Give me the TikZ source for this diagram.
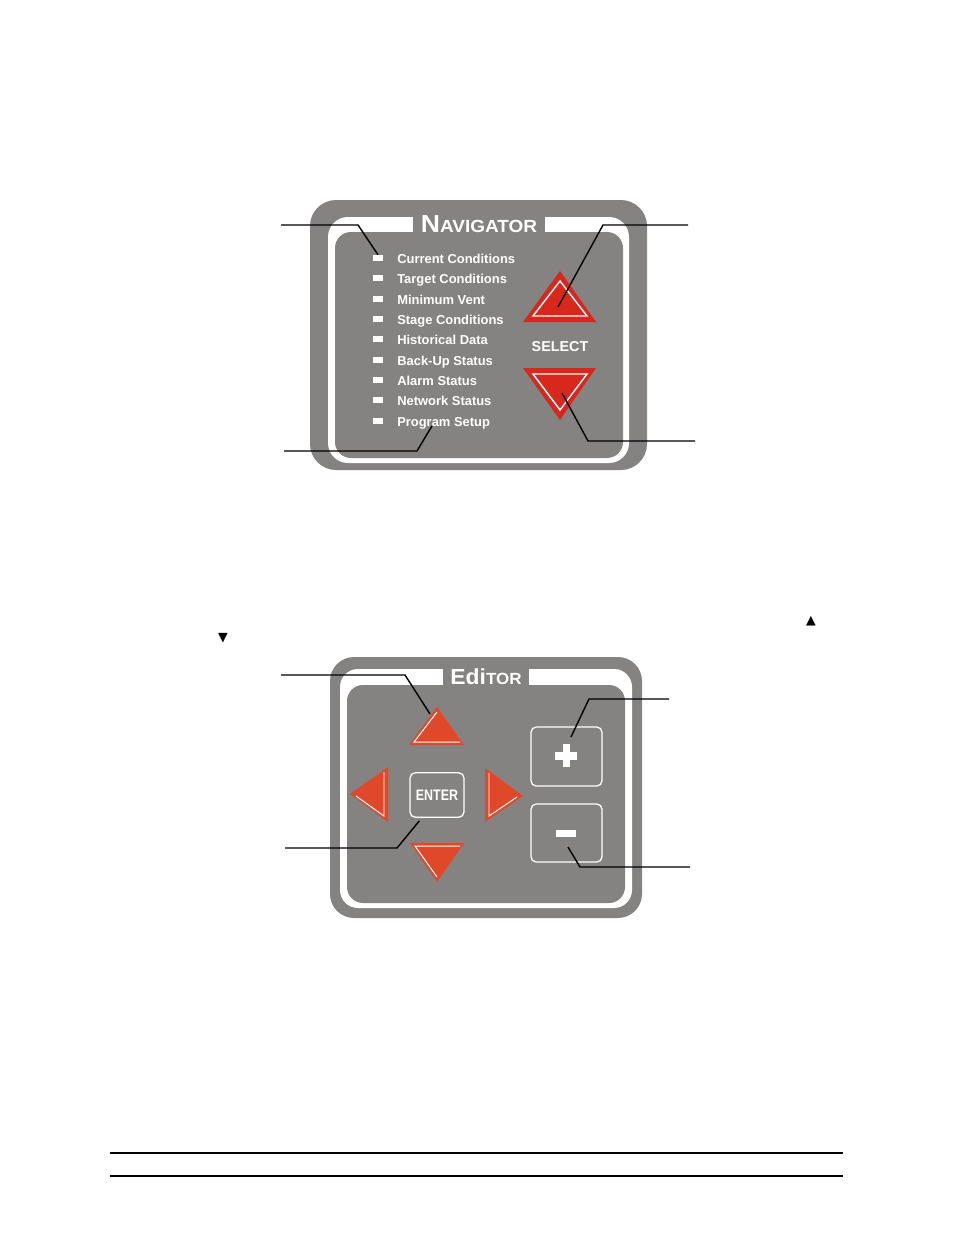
\documentclass[tikz,border=0pt]{standalone}
\usepackage{fontspec}
\setmainfont{Liberation Sans}
\newfontfamily\symfont{DejaVu Sans}
\definecolor{panelgray}{HTML}{858381}
\definecolor{navred}{HTML}{D8281E}
\definecolor{edred}{HTML}{E0482A}
\tikzset{
  leader/.style={draw=black, line width=1pt},
  led/.style={fill=white, inner sep=0pt, minimum width=2.6mm, minimum height=1.5mm},
  menutext/.style={anchor=base west, inner sep=0pt, text=white, font=\bfseries\fontsize{9.2}{10}\selectfont},
  keybox/.style={draw=white, line width=0.9pt, rounded corners=1.3mm},
}
\begin{document}
\begin{tikzpicture}[x=0.25mm, y=-0.25mm]
	\useasboundingbox (0,0) rectangle (954,1235);
	% navigator panel
	\fill[panelgray, rounded corners=6.5mm] (310,200) rectangle (647,470);
	\fill[white, rounded corners=5mm] (328,217) rectangle (629,463);
	\fill[panelgray, rounded corners=4mm] (335,232) rectangle (623,458);
	\fill[panelgray] (413,215) rectangle (545,233);
	\node[anchor=base, inner sep=0pt, text=white, font=\bfseries] (navtitle) at (479,232)
		{\scalebox{1.08}[1]{{\fontsize{17.5}{17}\selectfont N}{\fontsize{12.5}{12}\selectfont AVIGATOR}}};
	\foreach \y [count=\i] in {258,278,299,319,339,360,380,400,421}
		\node[led] (led\i) at (378,\y) {};
	\node[menutext] (m1) at (397,263) {Current Conditions};
	\node[menutext] (m2) at (397,283) {Target Conditions};
	\node[menutext] (m3) at (397,304) {Minimum Vent};
	\node[menutext] (m4) at (397,324) {Stage Conditions};
	\node[menutext] (m5) at (397,344) {Historical Data};
	\node[menutext] (m6) at (397,365) {Back-Up Status};
	\node[menutext] (m7) at (397,385) {Alarm Status};
	\node[menutext] (m8) at (397,405) {Network Status};
	\node[menutext] (m9) at (397,426) {Program Setup};
	\node[inner sep=0pt, text=white, font=\bfseries\fontsize{10.2}{11}\selectfont] (select) at (560,347) {SELECT};
	% select arrows
	\fill[navred] (560,271) -- (596,322) -- (523,322) -- cycle;
	\draw[white, line width=1pt] (560,281) -- (587,316) -- (533,316) -- cycle;
	\fill[navred] (523,368) -- (596,368) -- (560,420) -- cycle;
	\draw[white, line width=1pt] (533,374) -- (587,374) -- (560,410) -- cycle;
	\coordinate (selup) at (558,307);
	\coordinate (seldown) at (562,393);
	\coordinate (setup) at (432,426);
	% navigator leaders
	\coordinate (l1) at (281,225);
	\coordinate (l2) at (284,451);
	\coordinate (l3) at (688,225);
	\coordinate (l4) at (695,441);
	\draw[leader] (l1) -- (358,225) -- (led1.north);
	\draw[leader] (l2) -- (417,451) -- (setup);
	\draw[leader] (l3) -- (603,225) -- (selup);
	\draw[leader] (l4) -- (588,441) -- (seldown);
	% small marks
	\node[inner sep=0pt, font=\symfont\fontsize{9}{9}\selectfont] (upmark) at (811,621) {▲};
	\node[inner sep=0pt, font=\symfont\fontsize{9}{9}\selectfont] (downmark) at (223,638) {▼};
	% editor panel
	\fill[panelgray, rounded corners=6mm] (330,657) rectangle (642,918);
	\fill[white, rounded corners=4.5mm] (340,669) rectangle (632,908);
	\fill[panelgray, rounded corners=4mm] (347,685) rectangle (625,903);
	\fill[panelgray] (443,667) rectangle (529,686);
	\node[anchor=base, inner sep=0pt, text=white, font=\bfseries] (edtitle) at (486,684)
		{\scalebox{1.05}[1]{{\fontsize{15.5}{15}\selectfont Edi}{\fontsize{11.5}{11}\selectfont TOR}}};
	% editor arrows
	\fill[edred] (437,707) -- (464,745) -- (409,745) -- cycle;
	\draw[white, line width=0.7pt] (437,712) -- (414,742) -- (460,742);
	\fill[edred] (410,843) -- (464,843) -- (437,882) -- cycle;
	\draw[white, line width=0.7pt] (460,846) -- (415,846) -- (437,877);
	\fill[edred] (350,794) -- (388,767) -- (388,822) -- cycle;
	\draw[white, line width=0.7pt] (384,772) -- (384,816) -- (356,796);
	\fill[edred] (523,796) -- (485,768) -- (485,822) -- cycle;
	\draw[white, line width=0.7pt] (489,773) -- (489,816) -- (517,797);
	% editor keys
	\node[keybox, minimum width=13.5mm, minimum height=11.1mm, inner sep=0pt,
		text=white, font=\bfseries\fontsize{10.8}{11}\selectfont] (enter) at (437,795) {\scalebox{0.82}[1]{ENTER}};
	\draw[keybox] (531,727) rectangle (602,786);
	\draw[keybox] (531,804) rectangle (602,862);
	\fill[white] (555,752) rectangle (577,760);
	\fill[white] (563,744) rectangle (570,767);
	\fill[white] (556,830) rectangle (576,837);
	\coordinate (edup) at (430,714);
	\coordinate (plus) at (571,737);
	\coordinate (minus) at (568,847);
	% editor leaders
	\coordinate (e1) at (281,675);
	\coordinate (e2) at (285,848);
	\coordinate (e3) at (669,699);
	\coordinate (e4) at (690,867);
	\draw[leader] (e1) -- (405,675) -- (edup);
	\draw[leader] (e2) -- (397,848) -- ([shift={(10,3)}]enter.south west);
	\draw[leader] (e3) -- (589,699) -- (plus);
	\draw[leader] (e4) -- (580,867) -- (minus);
	% rules at the foot
	\draw[line width=1.8pt] (110,1153) -- (843,1153);
	\draw[line width=1.8pt] (110,1176) -- (843,1176);
\end{tikzpicture}
\end{document}
